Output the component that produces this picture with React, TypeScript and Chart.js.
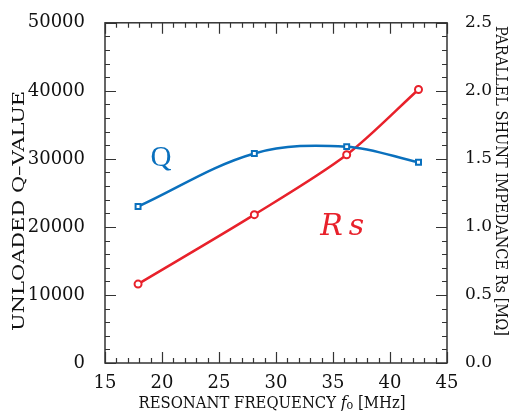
import React, { useEffect, useRef } from "react";
import { Chart, registerables } from "chart.js";

Chart.register(...registerables);

// ---- data ----
const freqMHz = [17.9, 28.1, 36.2, 42.5];
const qValue = [23000, 30800, 31800, 29500];
const rsValue = [0.58, 1.09, 1.53, 2.01];

const xTitle = ["RESONANT FREQUENCY ", "f", "o", " [MHz]"];
const yTitle = "UNLOADED Q\u2013VALUE";
const y1Title = "PARALLEL SHUNT IMPEDANCE Rs [M\u03A9]";

const qLabel = { text: "Q", x: 19.9, y: 30100 };
const rsLabel = { text: "Rs", x: 35.8, y: 1.0 };

const BLUE = "#0a70bd";
const RED = "#e8212b";
const INK = "#111";
const SERIF = "'DejaVu Serif', serif";

type Seg = { t: string; font: string; dy?: number };

function drawSegs(
  ctx: CanvasRenderingContext2D,
  segs: Seg[],
  cx: number,
  cy: number,
  rot: number,
  target: number
) {
  ctx.save();
  let total = 0;
  const ws = segs.map((s) => {
    ctx.font = s.font;
    const w = ctx.measureText(s.t).width;
    total += w;
    return w;
  });
  ctx.translate(cx, cy);
  ctx.rotate(rot);
  ctx.scale(target / total, 1);
  ctx.fillStyle = INK;
  ctx.textAlign = "left";
  ctx.textBaseline = "alphabetic";
  let x = -total / 2;
  segs.forEach((s, i) => {
    ctx.font = s.font;
    ctx.fillText(s.t, x, s.dy || 0);
    x += ws[i];
  });
  ctx.restore();
}

const framePlugin = {
  id: "frameTicks",
  afterDraw(chart: any) {
    const ctx: CanvasRenderingContext2D = chart.ctx;
    const { left, right, top, bottom } = chart.chartArea;
    const xs = chart.scales.x;
    const ys = chart.scales.y;
    const y1 = chart.scales.y1;
    ctx.save();
    ctx.strokeStyle = "#333";
    ctx.lineWidth = 1.5;
    ctx.strokeRect(left, top, right - left, bottom - top);
    ctx.lineWidth = 1.2;
    ctx.beginPath();
    for (let v = 15; v <= 45; v += 1) {
      const px = Math.round(xs.getPixelForValue(v)) + 0.5;
      const len = v % 5 === 0 ? 11 : 5;
      ctx.moveTo(px, bottom);
      ctx.lineTo(px, bottom - len);
      ctx.moveTo(px, top);
      ctx.lineTo(px, top + len);
    }
    for (let v = 0; v <= 50000; v += 2000) {
      const py = Math.round(ys.getPixelForValue(v)) + 0.5;
      const len = v % 10000 === 0 ? 11 : 5;
      ctx.moveTo(left, py);
      ctx.lineTo(left + len, py);
    }
    for (let i = 0; i <= 25; i++) {
      const v = i / 10;
      const py = Math.round(y1.getPixelForValue(v)) + 0.5;
      const len = i % 5 === 0 ? 11 : 5;
      ctx.moveTo(right, py);
      ctx.lineTo(right - len, py);
    }
    ctx.stroke();

    // series labels
    ctx.textAlign = "center";
    ctx.textBaseline = "middle";
    ctx.fillStyle = BLUE;
    ctx.font = `29px 'Liberation Serif', serif`;
    ctx.fillText(qLabel.text, xs.getPixelForValue(qLabel.x), ys.getPixelForValue(qLabel.y));
    ctx.fillStyle = RED;
    ctx.font = `italic 30px ${SERIF}`;
    (ctx as any).letterSpacing = "6px";
    ctx.fillText(rsLabel.text, xs.getPixelForValue(rsLabel.x) + 3, y1.getPixelForValue(rsLabel.y));
    (ctx as any).letterSpacing = "0px";
    ctx.restore();

    // axis titles
    const f = `16px ${SERIF}`;
    const cxm = (left + right) / 2;
    const cym = (top + bottom) / 2;
    drawSegs(
      ctx,
      [
        { t: xTitle[0], font: f },
        { t: xTitle[1], font: `italic 17px ${SERIF}` },
        { t: xTitle[2], font: `12px ${SERIF}`, dy: 1 },
        { t: xTitle[3], font: f },
      ],
      cxm - 4,
      408,
      0,
      267
    );
    drawSegs(ctx, [{ t: yTitle, font: f }], 24, cym + 18, -Math.PI / 2, 240);
    drawSegs(ctx, [{ t: y1Title, font: f }], 496, cym - 12, Math.PI / 2, 310);
  },
};

export default function App() {
  const ref = useRef<HTMLCanvasElement | null>(null);
  useEffect(() => {
    document.body.style.margin = "0";
    const canvas = ref.current;
    if (!canvas) return;
    const tickFont = { family: SERIF, size: 18 };
    const chart = new Chart(canvas, {
      type: "line",
      data: {
        datasets: [
          {
            label: "Q",
            data: freqMHz.map((x, i) => ({ x, y: qValue[i] })),
            yAxisID: "y",
            borderColor: BLUE,
            backgroundColor: "#fff",
            borderWidth: 2.5,
            pointStyle: "rect",
            pointRadius: 3.5,
            pointBorderWidth: 2,
            tension: 0.35,
          },
          {
            label: "Rs",
            data: freqMHz.map((x, i) => ({ x, y: rsValue[i] })),
            yAxisID: "y1",
            borderColor: RED,
            backgroundColor: "#fff",
            borderWidth: 2.5,
            pointStyle: "circle",
            pointRadius: 3.5,
            pointBorderWidth: 2,
            tension: 0.3,
          },
        ],
      },
      options: {
        responsive: false,
        animation: false,
        events: [],
        layout: { padding: { top: 18, left: 0, right: 0, bottom: 0 } },
        plugins: { legend: { display: false }, tooltip: { enabled: false } },
        scales: {
          x: {
            type: "linear",
            min: 15,
            max: 45,
            grid: { display: false },
            border: { display: false },
            ticks: { stepSize: 5, font: tickFont, color: INK, padding: 2, maxRotation: 0 },
            afterFit: (s: any) => {
              s.height = 48;
            },
          },
          y: {
            position: "left",
            min: 0,
            max: 50000,
            grid: { display: false },
            border: { display: false },
            ticks: {
              stepSize: 10000,
              font: tickFont,
              color: INK,
              padding: 12,
              callback: (v: any) => String(v),
            },
            afterFit: (s: any) => {
              s.width = 105;
            },
          },
          y1: {
            position: "right",
            min: 0,
            max: 2.5,
            grid: { display: false },
            border: { display: false },
            ticks: {
              stepSize: 0.5,
              font: { family: SERIF, size: 17 },
              color: INK,
              padding: 10,
              callback: (v: any) => Number(v).toFixed(1),
            },
            afterFit: (s: any) => {
              s.width = 64;
            },
          },
        },
      } as any,
      plugins: [framePlugin],
    });
    return () => chart.destroy();
  }, []);
  return (
    <div style={{ width: 511, height: 411 }}>
      <canvas ref={ref} width={511} height={411} />
    </div>
  );
}
